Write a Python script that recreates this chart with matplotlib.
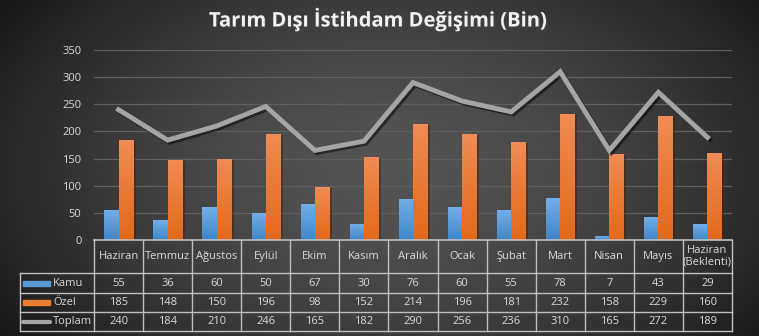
import matplotlib
matplotlib.use('Agg')
import matplotlib.pyplot as plt
import numpy as np
from matplotlib import patheffects

months = ['Haziran', 'Temmuz', 'Ağustos', 'Eylül', 'Ekim', 'Kasım', 'Aralık',
          'Ocak', 'Şubat', 'Mart', 'Nisan', 'Mayıs', 'Haziran\n(Beklenti)']
kamu = [55, 36, 60, 50, 67, 30, 76, 60, 55, 78, 7, 43, 29]
ozel = [185, 148, 150, 196, 98, 152, 214, 196, 181, 232, 158, 229, 160]
toplam = [240, 184, 210, 246, 165, 182, 290, 256, 236, 310, 165, 272, 189]
series_names = ['Kamu', 'Özel', 'Toplam']
yticks = [0, 50, 100, 150, 200, 250, 300, 350]

plt.rcParams['font.family'] = ['Open Sans', 'DejaVu Sans']

W, H = 759, 336
fig = plt.figure(figsize=(W / 100, H / 100), dpi=100)

# dark radial background
bg = fig.add_axes([0, 0, 1, 1])
bg.axis('off')
yy, xx = np.mgrid[0:H, 0:W]
r = np.sqrt(((xx - 390) / 430.0) ** 2 + ((yy - 170) / 270.0) ** 2)
v = np.clip(0.33 - 0.21 * r ** 1.6, 0.1, 1)
bg.imshow(np.dstack([v, v, v]), extent=[0, W, H, 0], aspect='auto')
bg.set_xlim(0, W)
bg.set_ylim(H, 0)

fig.text(378 / W, 1 - 20 / H, 'Tarım Dışı İstihdam Değişimi (Bin)', color='#f2f2f2',
         fontsize=14.5, fontweight='bold', ha='center', va='center',
         path_effects=[patheffects.withSimplePatchShadow(offset=(1, -1), alpha=0.6)])

left, right, top, bottom = 94, 732, 50, 240
ax = fig.add_axes([left / W, 1 - bottom / H, (right - left) / W, (bottom - top) / H])
ax.set_facecolor('none')
ax.set_xlim(-0.5, len(months) - 0.5)
ax.set_ylim(0, 350)
for s in ax.spines.values():
    s.set_visible(False)
ax.set_yticks(yticks)
ax.set_xticks([])
ax.tick_params(axis='y', length=0, pad=9, labelsize=8, labelcolor='#d9d9d9')
for t in yticks[1:]:
    ax.axhline(t, color='#5f5f5f', lw=0.9, zorder=0)

x = np.arange(len(months))
bw = 0.29


def grad_bars(xpos, vals, c_top, c_bot):
    bars = ax.bar(xpos, vals, bw, color=c_bot, zorder=2,
                  path_effects=[patheffects.withSimplePatchShadow(offset=(2, -1), alpha=0.45)])
    g = np.linspace(0, 1, 64)[:, None]
    ct = np.array(matplotlib.colors.to_rgb(c_top))
    cb = np.array(matplotlib.colors.to_rgb(c_bot))
    img = ct[None, None, :] * (1 - g[..., None]) + cb[None, None, :] * g[..., None]
    for b in bars:
        im = ax.imshow(img, extent=[b.get_x(), b.get_x() + b.get_width(), 0, b.get_height()],
                       aspect='auto', zorder=2.5, origin='upper')
        im.set_clip_path(b)
    ax.set_xlim(-0.5, len(months) - 0.5)
    ax.set_ylim(0, 350)


grad_bars(x - bw / 2, kamu, '#72afe7', '#3f86c9')
grad_bars(x + bw / 2, ozel, '#f08c55', '#e2691a')

ax.plot(x, toplam, color='#a5a5a5', lw=3.5, zorder=4, solid_joinstyle='miter',
        path_effects=[patheffects.SimpleLineShadow(offset=(1.5, -1.5), alpha=0.5),
                      patheffects.Normal()])

# data table
tab = fig.add_axes([0, 0, 1, 1])
tab.set_facecolor('none')
tab.axis('off')
tab.set_xlim(0, W)
tab.set_ylim(H, 0)
colw = (right - left) / len(months)
rows = [240, 273, 293, 312, 331]
lc = '#bfbfbf'
tab.plot([left, right], [rows[0], rows[0]], color=lc, lw=1.2)
for ry in rows[1:]:
    tab.plot([20, right], [ry, ry], color=lc, lw=1)
for i in range(len(months) + 1):
    xc = left + i * colw
    tab.plot([xc, xc], [rows[0], rows[-1]], color=lc, lw=1)
tab.plot([20, 20], [rows[1], rows[-1]], color=lc, lw=1)

tc = '#d9d9d9'
for i, m in enumerate(months):
    cx = left + (i + 0.5) * colw
    tab.text(cx, (rows[0] + rows[1]) / 2, m, color=tc, fontsize=8, ha='center', va='center',
             linespacing=1.1)
    for j, vals in enumerate([kamu, ozel, toplam]):
        tab.text(cx, (rows[j + 1] + rows[j + 2]) / 2, str(vals[i]), color=tc, fontsize=8,
                 ha='center', va='center')

key_cols = ['#5b9bd5', '#ed7d31']
for j, name in enumerate(series_names):
    cy = (rows[j + 1] + rows[j + 2]) / 2
    if j < 2:
        tab.add_patch(plt.Rectangle((23, cy - 2.5), 27, 5, color=key_cols[j]))
    else:
        tab.plot([23, 50], [cy, cy], color='#a5a5a5', lw=3, solid_capstyle='round')
    tab.text(53, cy, name, color=tc, fontsize=8, ha='left', va='center')

fig.savefig('out.png', dpi=100)
